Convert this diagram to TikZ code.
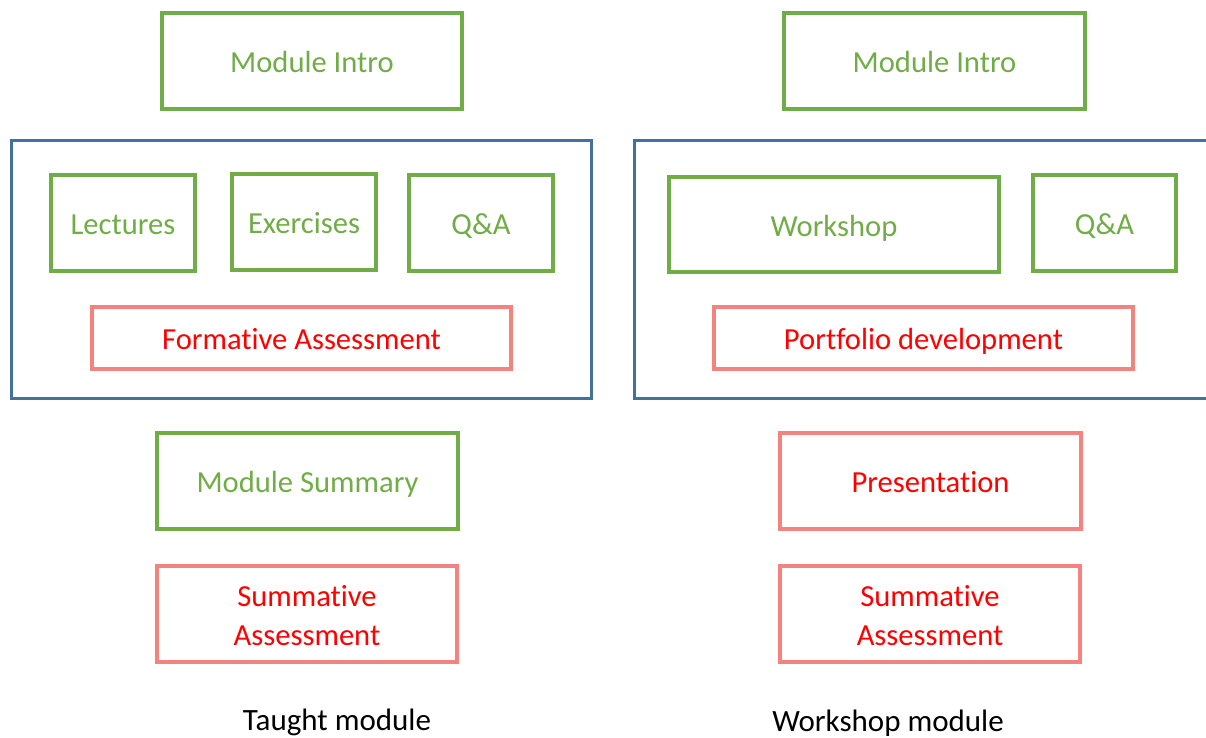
\documentclass[tikz,border=0pt]{standalone}
\usepackage{fontspec}
\setmainfont[Ligatures=NoCommon]{Carlito}
\definecolor{gbox}{HTML}{70AD47}
\definecolor{bbox}{HTML}{41719C}
\definecolor{pbox}{HTML}{F4837D}
\definecolor{rtext}{HTML}{FF0000}
\begin{document}
\begin{tikzpicture}[x=1pt,y=-1pt,
  boxbase/.style={line width=3.5pt,inner sep=0pt,text height=23pt,text depth=0pt,font=\fontsize{30.6}{39}\selectfont,align=center},
  gnode/.style={boxbase,draw=gbox,text=gbox},
  pnode/.style={boxbase,draw=pbox,text=rtext},
  twoline/.style={text height=63pt},
  frame/.style={draw=bbox,line width=3pt},
  caption/.style={text=black,inner sep=0pt,font=\fontsize{31}{36}\selectfont}]
\useasboundingbox (0,0) rectangle (1206,738);
\clip (0,0) rectangle (1206,738);
% left column
\node[gnode,minimum width=300pt,minimum height=96pt] (introL) at (312,61) {Module Intro};
\draw[frame] (11,141) rectangle (591,398);
\node[gnode,minimum width=144pt,minimum height=96pt] (lect) at (123,223) {Lectures};
\node[gnode,minimum width=144pt,minimum height=96pt] (exer) at (304,222) {Exercises};
\node[gnode,minimum width=144pt,minimum height=96pt] (qaL) at (481,223) {Q\&A};
\node[pnode,minimum width=419pt,minimum height=62pt] (form) at (301.5,338) {Formative Assessment};
\node[gnode,minimum width=301pt,minimum height=96pt] (summ) at (307.5,481) {Module Summary};
\node[pnode,twoline,minimum width=300pt,minimum height=96pt] (sumL) at (307,614) {Summative\\Assessment};
\node[caption] (capL) at (337,722) {Taught module};
% right column
\node[gnode,minimum width=301pt,minimum height=96pt] (introR) at (934.5,61) {Module Intro};
\draw[frame] (634,141) rectangle (1215,398);
\node[gnode,minimum width=330pt,minimum height=95pt] (work) at (834,224.5) {Workshop};
\node[gnode,minimum width=143pt,minimum height=96pt] (qaR) at (1104.5,223) {Q\&A};
\node[pnode,minimum width=419pt,minimum height=62pt] (port) at (923.5,338) {Portfolio development};
\node[pnode,minimum width=301pt,minimum height=96pt] (pres) at (930.5,481) {Presentation};
\node[pnode,twoline,minimum width=300pt,minimum height=96pt] (sumR) at (930,614) {Summative\\Assessment};
\node[caption] (capR) at (888,723) {Workshop module};
\end{tikzpicture}
\end{document}
